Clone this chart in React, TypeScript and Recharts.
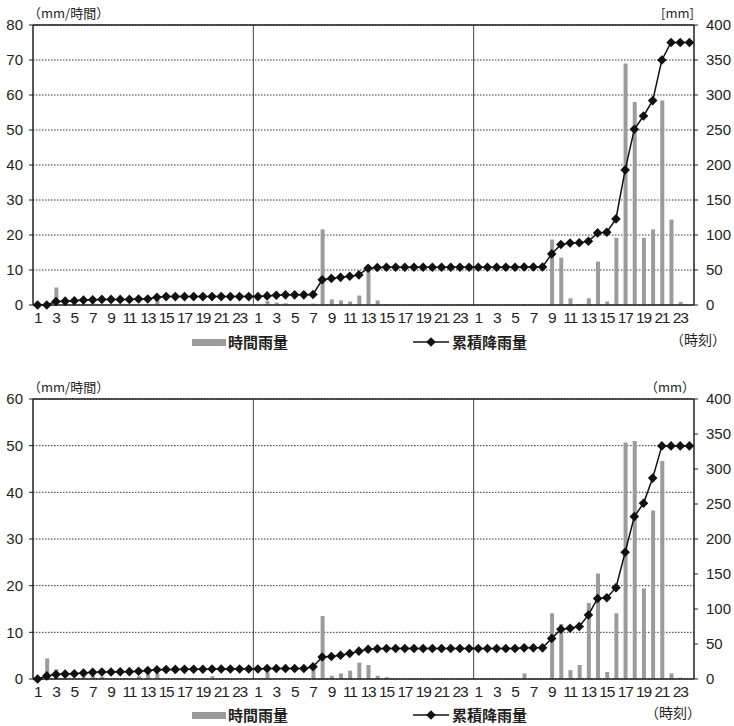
import React from 'react'
import {
  Bar,
  CartesianGrid,
  ComposedChart,
  Line,
  ReferenceLine,
  XAxis,
  YAxis,
} from 'recharts'

const dayHours = [1, 2, 3, 4, 5, 6, 7, 8, 9, 10, 11, 12, 13, 14, 15, 16, 17, 18, 19, 20, 21, 22, 23, 24]
const days = ['d1', 'd2', 'd3']
const tickHours = [1, 3, 5, 7, 9, 11, 13, 15, 17, 19, 21, 23]

// upper panel: hourly rainfall (mm/h) and cumulative rainfall (mm)
const rainA = [
  0, 0, 5, 0, 0, 0, 0.5, 0, 0, 0, 0, 0, 0, 1.5, 0.3, 0, 0, 0, 0, 0, 0, 0, 0, 0,
  0, 1.1, 0.7, 0.5, 0, 0, 0.4, 21.6, 1.6, 1.3, 1.0, 2.7, 10.1, 1.3, 0.3, 0, 0, 0, 0, 0, 0, 0, 0, 0,
  0, 0, 0, 0, 0, 0.3, 0, 0, 18.7, 13.5, 1.9, 0.3, 1.9, 12.4, 1.0, 19.2, 69, 58, 19.2, 21.6, 58.4, 24.4, 0.9, 0,
]
const totalA = [
  0, 0, 5, 5.5, 6, 7, 7.5, 8, 8, 8, 8, 8.5, 8.5, 11, 12, 12, 12, 12, 12, 12, 12, 12, 12, 12,
  12, 13, 14, 14.5, 14.5, 14.5, 15, 36, 38, 39.5, 41, 43, 52.5, 53.5, 54, 54, 54, 54, 54, 54, 54, 54, 54, 54,
  54, 54, 54, 54, 54, 54.3, 54.3, 54.3, 73, 86.5, 88.5, 89, 91, 103, 104, 123, 193, 251, 270, 292, 350, 375, 375, 375,
]

// lower panel
const rainB = [
  0, 4.4, 2.1, 0, 0, 0.5, 0.7, 0.5, 0, 0, 0, 0.6, 1.0, 1.2, 0, 0, 0, 0, 0, 0.6, 0, 0, 0, 0,
  0, 1.4, 0, 0, 0, 0, 2.0, 13.5, 0.7, 1.2, 1.8, 3.5, 3.0, 0.7, 0.4, 0, 0, 0, 0, 0, 0, 0, 0, 0,
  0, 0, 0, 0, 0, 1.2, 0, 0, 14.1, 11.8, 1.9, 3.0, 16.3, 22.6, 1.5, 14.1, 50.7, 51, 19.4, 36.1, 46.7, 1.2, 0.3, 0,
]
const totalB = [
  0, 4.4, 6.5, 7, 7.5, 8.5, 9.5, 10, 10, 10.3, 10.5, 11, 12, 13.3, 13.5, 13.7, 13.8, 14, 14, 14.2, 14.3, 14.3, 14.3, 14.3,
  14.3, 15, 15, 15, 15, 15, 17.5, 31.4, 32.2, 34, 36.5, 39.8, 42.4, 43.2, 43.5, 43.5, 43.5, 43.5, 43.5, 43.5, 43.5, 43.5, 43.5, 43.5,
  43.5, 43.5, 43.5, 43.5, 43.5, 44.5, 44.5, 44.5, 58, 71, 72.5, 75, 91.5, 115, 116, 130.5, 181, 232, 251, 287, 333, 333, 333, 333,
]

const ticksA = [0, 10, 20, 30, 40, 50, 60, 70, 80]
const ticksB = [0, 10, 20, 30, 40, 50, 60]
const ticksRight = [0, 50, 100, 150, 200, 250, 300, 350, 400]

const FONT = '"Liberation Sans", Arial, "Noto Sans CJK JP", sans-serif'
const JFONT = '"Noto Sans CJK JP", "Liberation Sans", sans-serif'
const INK = '#231f20'

const slots = days.flatMap((d, di) => dayHours.map((h) => ({ day: d, hour: h, slot: di * dayHours.length + h })))
const tickSlots = days.flatMap((_, di) => tickHours.map((h) => di * dayHours.length + h))
const dayEdges = days.slice(1).map((_, di) => (di + 1) * dayHours.length + 0.5)

const Diamond = (props: any) => {
  const { cx, cy, index } = props
  if (cx == null || cy == null) return <g key={index} />
  const r = 4.8
  return (
    <path
      key={index}
      d={`M${cx},${cy - r}L${cx + r},${cy}L${cx},${cy + r}L${cx - r},${cy}Z`}
      fill="#111"
    />
  )
}

interface PanelProps {
  rain: number[]
  total: number[]
  leftTicks: number[]
  top: number
  rightUnit: string
  unitRightLeft: number
  legendY: number
  timeLeft: number
}

function Panel({ rain, total, leftTicks, top, rightUnit, unitRightLeft, legendY, timeLeft }: PanelProps) {
  const data = slots.map((s, i) => ({ ...s, rain: rain[i], total: total[i] }))
  const leftMax = leftTicks[leftTicks.length - 1]
  const tick = { fontSize: 15, fill: INK, fontFamily: FONT }

  return (
    <div style={{ position: 'absolute', left: 0, top, width: 734, height: 352 }}>
      <ComposedChart
        width={734}
        height={330}
        data={data}
        margin={{ top: 25, right: 0, left: 0, bottom: 0 }}
      >
        <CartesianGrid
          yAxisId="left"
          vertical={false}
          stroke="#333"
          strokeDasharray="1.5 1.5"
        />
        <XAxis
          dataKey="slot"
          type="number"
          domain={[0.5, days.length * dayHours.length + 0.5]}
          ticks={tickSlots}
          interval={0}
          allowDataOverflow
          tickFormatter={(v: number) => String(((v - 1) % dayHours.length) + 1)}
          height={25}
          tickLine={false}
          tickSize={0}
          tickMargin={7}
          axisLine={{ stroke: INK, strokeWidth: 1.5 }}
          tick={{ fontSize: 15.5, fill: INK, fontFamily: FONT, letterSpacing: -1.2 }}
        />
        <YAxis
          yAxisId="left"
          domain={[0, leftMax]}
          ticks={leftTicks}
          interval={0}
          width={33}
          tickSize={4}
          tickMargin={6}
          axisLine={{ stroke: INK, strokeWidth: 1.5 }}
          tickLine={{ stroke: INK }}
          tick={tick}
        />
        <YAxis
          yAxisId="right"
          orientation="right"
          domain={[0, 400]}
          ticks={ticksRight}
          interval={0}
          width={40}
          tickSize={4}
          tickMargin={8}
          axisLine={{ stroke: INK, strokeWidth: 1.5 }}
          tickLine={{ stroke: INK }}
          tick={tick}
        />
        <ReferenceLine yAxisId="left" y={leftMax} stroke={INK} strokeWidth={1.5} />
        {dayEdges.map((x) => (
          <ReferenceLine key={x} yAxisId="left" x={x} stroke="#444" strokeWidth={1} />
        ))}
        <Bar
          yAxisId="left"
          dataKey="rain"
          fill="#9b9b9b"
          barSize={4}
          isAnimationActive={false}
        />
        <Line
          yAxisId="right"
          dataKey="total"
          type="linear"
          stroke="#111"
          strokeWidth={1.5}
          dot={Diamond}
          activeDot={false}
          isAnimationActive={false}
        />
      </ComposedChart>

      {/* axis units */}
      <div style={{ position: 'absolute', left: 28, top: 4, fontSize: 13, fontFamily: JFONT, color: INK, lineHeight: '18px' }}>
        （mm/時間）
      </div>
      <div style={{ position: 'absolute', left: unitRightLeft, top: 4, fontSize: 13, fontFamily: JFONT, color: INK, lineHeight: '18px' }}>
        {rightUnit}
      </div>

      {/* legend */}
      <div style={{ position: 'absolute', left: 192, top: legendY - 3, width: 34, height: 7, background: '#9b9b9b' }} />
      <div style={{ position: 'absolute', left: 228, top: legendY - 11, fontSize: 15, fontWeight: 700, fontFamily: JFONT, color: INK, lineHeight: '22px' }}>
        時間雨量
      </div>
      <svg style={{ position: 'absolute', left: 413, top: legendY - 6 }} width={36} height={12}>
        <line x1={0} y1={6} x2={36} y2={6} stroke="#111" strokeWidth={1.5} />
        <path d="M18,1.2L22.8,6L18,10.8L13.2,6Z" fill="#111" />
      </svg>
      <div style={{ position: 'absolute', left: 452, top: legendY - 11, fontSize: 15, fontWeight: 700, fontFamily: JFONT, color: INK, lineHeight: '22px' }}>
        累積降雨量
      </div>
      <div style={{ position: 'absolute', left: timeLeft, top: legendY - 13, fontSize: 14, fontFamily: JFONT, color: INK, lineHeight: '20px' }}>
        （時刻）
      </div>
    </div>
  )
}

export default function App() {
  return (
    <div style={{ position: 'absolute', left: 0, top: 0, width: 734, height: 726, background: '#fff' }}>
      <Panel
        rain={rainA}
        total={totalA}
        leftTicks={ticksA}
        top={0}
        rightUnit="[mm]"
        unitRightLeft={661}
        legendY={342}
        timeLeft={670}
      />
      <Panel
        rain={rainB}
        total={totalB}
        leftTicks={ticksB}
        top={374}
        rightUnit="（mm）"
        unitRightLeft={645}
        legendY={341}
        timeLeft={645}
      />
    </div>
  )
}
